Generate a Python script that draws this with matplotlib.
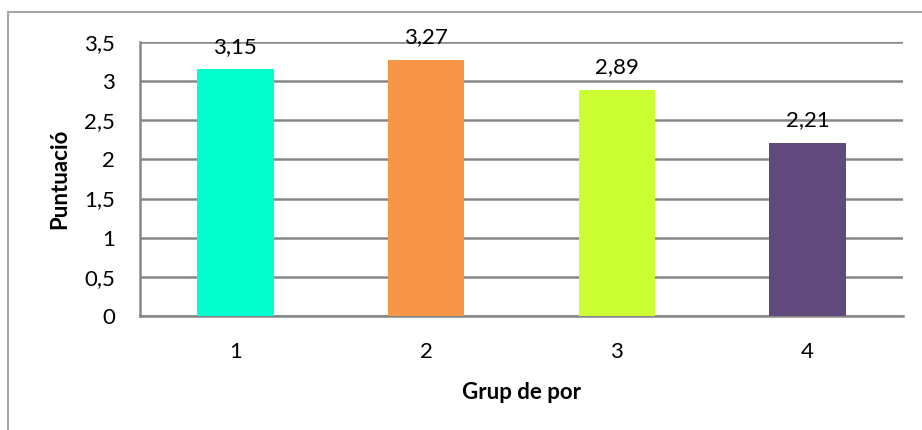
import matplotlib.pyplot as plt
from matplotlib.patches import Rectangle

plt.rcParams["font.family"] = ["Lato", "DejaVu Sans"]

grups = ["1", "2", "3", "4"]
puntuacio = [3.15, 3.27, 2.89, 2.21]
colors = ["#00FFCC", "#F79646", "#CCFF33", "#604A7B"]

fig = plt.figure(figsize=(9.22, 4.30), dpi=100)
ax = fig.add_axes([140 / 922, 1 - 316 / 430, 763 / 922, 274 / 430])

# chart frame (only left and top edges fall inside the image)
fig.patches.append(Rectangle((8 / 922, -0.2), 1.2, 1.2 - 12 / 430,
                             transform=fig.transFigure, fill=False,
                             edgecolor="#A6A6A6", linewidth=1.5))

fs = 16
x = range(len(grups))
ax.bar(x, puntuacio, width=0.40, color=colors, zorder=3)
for xi, v in zip(x, puntuacio):
    ax.annotate(f"{v:.2f}".replace(".", ","), (xi, v), xytext=(0, 9),
                textcoords="offset points", ha="center", va="bottom",
                fontsize=fs, color="#000000")

ax.set_xlim(-0.5, 3.5)
ax.set_ylim(0, 3.5)
ax.set_yticks([0, 0.5, 1, 1.5, 2, 2.5, 3, 3.5])
ax.set_yticklabels(["0", "0,5", "1", "1,5", "2", "2,5", "3", "3,5"], fontsize=fs)
ax.set_xticks(list(x))
ax.set_xticklabels(grups, fontsize=fs)
ax.tick_params(axis="y", length=0, pad=18)
ax.tick_params(axis="x", length=0, pad=19)
ax.yaxis.grid(True, color="#868686", linewidth=1.8, zorder=0)
ax.set_axisbelow(True)
for side in ["top", "right"]:
    ax.spines[side].set_visible(False)
for side in ["left", "bottom"]:
    ax.spines[side].set_color("#868686")
    ax.spines[side].set_linewidth(1.8)

ax.set_ylabel("Puntuació", fontsize=fs, fontweight="bold", labelpad=10)
ax.set_xlabel("Grup de por", fontsize=fs, fontweight="bold", labelpad=14)

fig.savefig("out.png", dpi=100)
